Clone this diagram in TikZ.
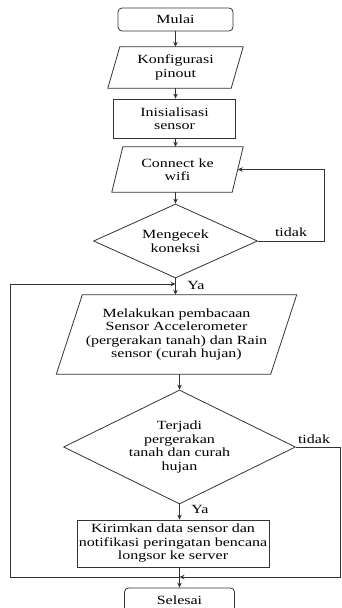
\documentclass[tikz,border=0pt]{standalone}
\usepackage{fontspec}
\setmainfont[FakeStretch=1.28]{Liberation Serif}
\usetikzlibrary{shapes.geometric,arrows.meta}
\newcommand\drawpara[2]{\draw[ln] ([xshift=#2]#1.north west) -- ([xshift=#2]#1.north east) -- ([xshift=-#2]#1.south east) -- ([xshift=-#2]#1.south west) -- cycle;}
\tikzset{
  ln/.style={draw=black!80, line width=0.8pt},
  arr/.style={ln, -{Stealth[length=5pt,width=4.5pt]}},
  txt/.style={font=\fontsize{12.5}{13.5}\selectfont, align=center, inner sep=0pt},
  term/.style={txt, ln, rectangle, rounded corners=4pt},
  proc/.style={txt, ln, rectangle},
  io/.style={txt, rectangle},
  dec/.style={txt, ln, diamond, aspect=2.2},
  lbl/.style={txt}
}
\begin{document}
\begin{tikzpicture}[x=1pt,y=-1pt]
\useasboundingbox (0,0) rectangle (341,608);
\node[term, minimum width=115pt, minimum height=23pt] (mulai) at (175.5,19.5) {Mulai};
\node[io, minimum width=123pt, minimum height=41pt] (konf) at (175.5,67.5) {Konfigurasi\\pinout};
\drawpara{konf}{6pt}
\node[proc, minimum width=122pt, minimum height=39pt] (init) at (174.5,118.5) {Inisialisasi\\sensor};
\node[io, minimum width=120pt, minimum height=45pt] (conn) at (177.5,169.5) {Connect ke\\wifi};
\drawpara{conn}{5.5pt}
\node[dec, minimum width=164pt, minimum height=74pt] (cek) at (175.5,241) {Mengecek\\koneksi};
\node[io, minimum width=214pt, minimum height=79pt] (baca) at (176.5,334.5) {Melakukan pembacaan\\Sensor Accelerometer\\(pergerakan tanah) dan Rain\\sensor (curah hujan)};
\drawpara{baca}{13pt}
\node[dec, minimum width=232pt, minimum height=114pt] (terj) at (179.5,447) {Terjadi\\pergerakan\\tanah dan curah\\hujan};
\node[proc, minimum width=192pt, minimum height=47pt] (kirim) at (173,543.5) {Kirimkan data sensor dan\\notifikasi peringatan bencana\\longsor ke server};
\node[term, minimum width=110pt, minimum height=24pt] (sel) at (179.5,600) {Selesai};
\coordinate (ya1) at (175.5,284);
\coordinate (jn) at (179.5,577);
\coordinate (lft) at (10,577);
\coordinate (rgt) at (340,447);
\draw[arr] (mulai) -- (konf.south |- mulai.south) -- (mulai.south |- konf.north);
\draw[arr] (konf.south -| mulai.south) -- (mulai.south |- init.north);
\draw[arr] (init.south -| mulai.south) -- (mulai.south |- conn.north);
\draw[arr] (cek.north |- conn.south) -- (cek.north);
\draw[arr] (cek.east) -- ++(66,0) |- (conn.east);
\node[lbl] at (291,232) {tidak};
\draw[arr] (cek.south) -- (cek.south |- baca.north);
\node[lbl] at (196,285) {Ya};
\draw[arr] (jn) -- (lft) |- (ya1);
\draw[arr] (terj.north |- baca.south) -- (terj.north);
\draw[ln] (terj.east) -- (rgt);
\node[lbl] at (314,439) {tidak};
\draw[arr] (rgt) |- (jn);
\draw[arr] (terj.south) -- (terj.south |- kirim.north);
\node[lbl] at (200,509) {Ya};
\draw[ln] (terj.south |- kirim.south) -- (jn);
\draw[arr] (jn) -- (sel.north);
\end{tikzpicture}
\end{document}
